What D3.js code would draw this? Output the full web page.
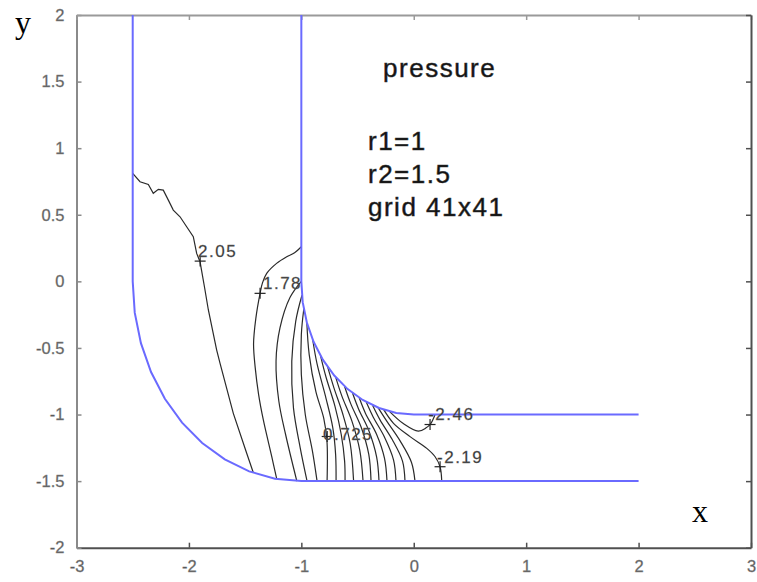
<!DOCTYPE html>
<html><head><meta charset="utf-8">
<script src="https://cdn.jsdelivr.net/npm/d3@7"></script>
<style>body{margin:0;background:#fff} svg{display:block}</style>
</head><body><svg id="c" width="757" height="582"></svg>
<script>
// ---------- data ----------
const xTicks = [-3, -2, -1, 0, 1, 2, 3];
const yTicks = [-2, -1.5, -1, -0.5, 0, 0.5, 1, 1.5, 2];

// channel walls (blue)
const outerWall = [[-2.5,2],[-2.5,0],[-2.482,-0.235],[-2.427,-0.464],[-2.337,-0.681],[-2.214,-0.882],
  [-2.061,-1.061],[-1.882,-1.214],[-1.681,-1.337],[-1.464,-1.427],[-1.235,-1.482],[-1,-1.5],[2,-1.5]];
const innerWall = [[-1,2],[-1,0],[-0.988,-0.156],[-0.951,-0.309],[-0.891,-0.454],[-0.809,-0.588],
  [-0.707,-0.707],[-0.588,-0.809],[-0.454,-0.891],[-0.309,-0.951],[-0.156,-0.988],[0,-1],[2,-1]];

// pressure contour levels and their traced lines
const contourLevels = [2.05,1.785,1.52,1.255,0.99,0.725,0.46,0.195,-0.07,-0.335,-0.6,-0.865,-1.13,-1.395,-1.66,-1.925,-2.19,-2.455];
const contourPaths = [
  [[-2.5,0.811],[-2.435,0.748],[-2.361,0.728],[-2.317,0.661],[-2.272,0.691],[-2.228,0.685],[-2.183,0.61],[-2.139,0.535],[-2.079,0.485],[-2.02,0.41],[-1.961,0.335],[-1.931,0.21],[-1.901,0.147],[-1.86,-0.05],[-1.827,-0.215],[-1.753,-0.516],[-1.723,-0.616],[-1.605,-0.991],[-1.486,-1.291],[-1.427,-1.437]],
  [[-1,0.26],[-1.06,0.215],[-1.13,0.185],[-1.22,0.135],[-1.308,0.06],[-1.345,-0.01],[-1.367,-0.09],[-1.405,-0.28],[-1.425,-0.47],[-1.41,-0.65],[-1.38,-0.85],[-1.338,-1.041],[-1.263,-1.317],[-1.219,-1.484]],
  [[-1,0],[-1.1,-0.12],[-1.19,-0.35],[-1.225,-0.6],[-1.2,-0.9],[-1.14,-1.15],[-1.04,-1.4995]],
  [[-0.9945,-0.1045],[-1.05,-0.3],[-1.085,-0.6],[-1.07,-0.95],[-1.01,-1.25],[-0.949,-1.5]],
  [[-0.9781,-0.2079],[-1.0,-0.4],[-1.0,-0.7],[-0.965,-1.0],[-0.9,-1.28],[-0.86,-1.5]],
  [[-0.9511,-0.309],[-0.93,-0.55],[-0.87,-0.83],[-0.8,-1.03],[-0.772,-1.2],[-0.771,-1.5]],
  [[-0.8988,-0.4384],[-0.86,-0.62],[-0.78,-0.88],[-0.72,-1.1],[-0.695,-1.3],[-0.691,-1.5]],
  [[-0.829,-0.5592],[-0.78,-0.72],[-0.7,-0.94],[-0.645,-1.15],[-0.615,-1.35],[-0.611,-1.5]],
  [[-0.766,-0.6428],[-0.71,-0.8],[-0.63,-1.0],[-0.565,-1.22],[-0.535,-1.5]],
  [[-0.6947,-0.7193],[-0.64,-0.86],[-0.55,-1.05],[-0.48,-1.27],[-0.451,-1.5]],
  [[-0.6157,-0.788],[-0.56,-0.92],[-0.47,-1.09],[-0.4,-1.3],[-0.38,-1.5]],
  [[-0.5446,-0.8387],[-0.49,-0.96],[-0.4,-1.12],[-0.33,-1.32],[-0.309,-1.5]],
  [[-0.4848,-0.8746],[-0.43,-0.99],[-0.33,-1.15],[-0.26,-1.33],[-0.238,-1.5]],
  [[-0.4226,-0.9063],[-0.36,-1.02],[-0.26,-1.17],[-0.18,-1.34],[-0.158,-1.5]],
  [[-0.3665,-0.9304],[-0.3,-1.04],[-0.19,-1.19],[-0.1,-1.35],[-0.078,-1.5]],
  [[-0.3173,-0.9483],[-0.24,-1.05],[-0.12,-1.2],[-0.02,-1.36],[0.011,-1.5]],
  [[-0.2672,-0.9636],[-0.18,-1.066],[-0.033,-1.166],[0.116,-1.254],[0.19,-1.317],[0.234,-1.392],[0.249,-1.499]],
  [[-0.2164,-0.9763],[-0.09,-1.07],[0.04,-1.125],[0.11,-1.1],[0.15,-1.07],[0.19,-1.0]]
];

// clabel markers and texts
const labelTexts = ["2.05", "1.78", "0.725", "-2.46", "-2.19"];
const labelMarks = [[-1.9,0.152],[-1.367,-0.09],[-0.77,-1.165],[0.145,-1.075],[0.234,-1.392]];
const labelTextPos = [[-1.919,0.182],[-1.341,-0.054],[-0.807,-1.191],[0.128,-1.041],[0.207,-1.366]];

// annotation
const noteTexts = ["pressure", "r1=1", "r2=1.5", "grid 41x41"];
const notePos = [[-0.273,1.534],[-0.407,0.986],[-0.407,0.738],[-0.407,0.49]];
const xAxisTitle = "x", yAxisTitle = "y";

// ---------- drawing ----------
const svg = d3.select("#c");
svg.append("rect").attr("width",757).attr("height",582).attr("fill","#fff");
const x = d3.scaleLinear().domain([-3,3]).range([76.5,751]);
const y = d3.scaleLinear().domain([-2,2]).range([547.7,15]);
const fmt = d => String(d);

function styleAxis(g, col){
  g.attr("font-size", null).attr("font-family", null);
  g.select(".domain").attr("stroke", col).attr("stroke-width", 2);
  g.selectAll(".tick line").attr("stroke", col).attr("stroke-width", 1.5);
  g.selectAll(".tick text").attr("fill", "#5a5a5a").attr("stroke","#8a8a8a").attr("stroke-width",0.35)
    .style("font-family","'Liberation Sans', Arial, sans-serif").style("font-size", "16.5px");
}
const gb = svg.append("g").attr("transform",`translate(0,${y(-2)})`)
  .call(d3.axisBottom(x).tickValues(xTicks).tickSizeInner(-5).tickSizeOuter(0).tickPadding(13).tickFormat(fmt));
styleAxis(gb, "#505050");
const gl = svg.append("g").attr("transform",`translate(${x(-3)},0)`)
  .call(d3.axisLeft(y).tickValues(yTicks).tickSizeInner(-5).tickSizeOuter(0).tickPadding(12).tickFormat(fmt));
styleAxis(gl, "#8a8a8a");
const gt = svg.append("g").attr("transform",`translate(0,${y(2)})`)
  .call(d3.axisTop(x).tickValues(xTicks).tickSizeInner(-5).tickSizeOuter(0).tickFormat(""));
styleAxis(gt, "#9a9a9a");
const gr = svg.append("g").attr("transform",`translate(${x(3)},0)`)
  .call(d3.axisRight(y).tickValues(yTicks).tickSizeInner(-5).tickSizeOuter(0).tickFormat(""));
styleAxis(gr, "#505050");

const line = d3.line().x(d => x(d[0])).y(d => y(d[1]));
const smooth = d3.line().x(d => x(d[0])).y(d => y(d[1])).curve(d3.curveCatmullRom.alpha(0.5));

// contours
svg.append("g").selectAll("path").data(contourPaths).join("path")
  .attr("d", (d,i) => i === 0 ? line(d) : smooth(d))
  .attr("fill","none").attr("stroke","#2a2a2a").attr("stroke-width",1.2);

// walls
svg.append("g").selectAll("path").data([outerWall, innerWall]).join("path")
  .attr("d", line).attr("fill","none").attr("stroke","#6a6aff").attr("stroke-width",2);

// label markers
const mk = svg.append("g").attr("stroke","#222").attr("stroke-width",1.2);
labelMarks.forEach(p => {
  mk.append("line").attr("x1",x(p[0])-5.5).attr("x2",x(p[0])+5.5).attr("y1",y(p[1])).attr("y2",y(p[1]));
  mk.append("line").attr("x1",x(p[0])).attr("x2",x(p[0])).attr("y1",y(p[1])-5.5).attr("y2",y(p[1])+5.5);
});
svg.append("g").selectAll("text").data(labelTexts).join("text")
  .attr("x",(d,i)=>x(labelTextPos[i][0])).attr("y",(d,i)=>y(labelTextPos[i][1]))
  .attr("font-family","Liberation Sans, Arial, sans-serif").attr("font-size",17)
  .attr("letter-spacing",1.5).attr("fill","#333").attr("stroke","#777").attr("stroke-width",0.3).text(d=>d);

// annotations
svg.append("g").selectAll("text").data(noteTexts).join("text")
  .attr("x",(d,i)=>x(notePos[i][0])).attr("y",(d,i)=>y(notePos[i][1]))
  .attr("font-family","Liberation Sans, Arial, sans-serif").attr("font-size",26)
  .attr("letter-spacing",1.5).attr("fill","#111").attr("stroke","#333").attr("stroke-width",0.5).text(d=>d);

// axis titles
svg.append("text").attr("x",15).attr("y",33).attr("font-family","Liberation Serif, Times New Roman, serif")
  .attr("font-size",32).attr("fill","#000").text(yAxisTitle);
svg.append("text").attr("x",692).attr("y",522).attr("font-family","Liberation Serif, Times New Roman, serif")
  .attr("font-size",32).attr("fill","#000").text(xAxisTitle);
</script></body></html>
